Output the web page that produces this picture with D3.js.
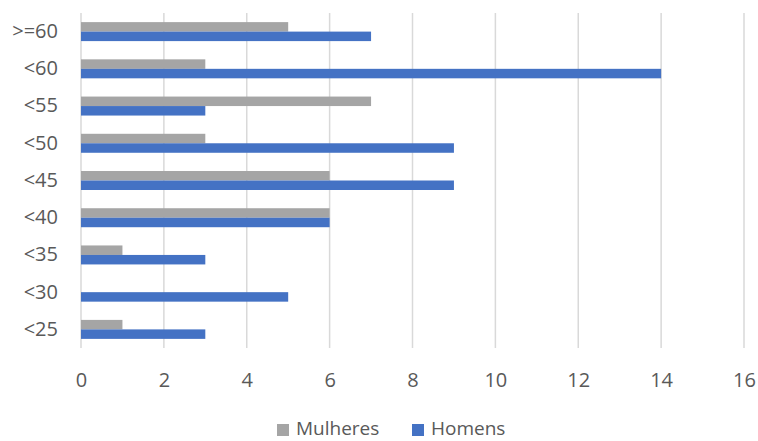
<!DOCTYPE html>
<html><head><meta charset="utf-8">
<script src="https://cdn.jsdelivr.net/npm/d3@7"></script>
<style>body{margin:0;background:#fff}svg{display:block}</style>
</head><body>
<script>
const categories = ["<25","<30","<35","<40","<45","<50","<55","<60",">=60"];
const mulheres = [1,0,1,6,6,3,7,3,5];
const homens = [3,5,3,6,9,9,3,14,7];
const seriesNames = ["Mulheres","Homens"];
const xTicks = [0,2,4,6,8,10,12,14,16];
const colors = ["#A5A5A5","#4472C4"];

const W=758,H=441;
const font="'Open Sans', sans-serif";
const fs=20;
const svg=d3.select("body").append("svg").attr("width",W).attr("height",H);
const x=d3.scaleLinear().domain([0,16]).range([81,744]);
const cats=categories.slice().reverse();
const y=d3.scaleBand().domain(cats).range([13,348]).paddingInner(0.49).paddingOuter(0.245);
const y1=d3.scaleBand().domain(seriesNames).range([0,y.bandwidth()]);

svg.append("g").selectAll("line").data(xTicks).join("line")
  .attr("x1",d=>x(d)).attr("x2",d=>x(d)).attr("y1",13).attr("y2",348)
  .attr("stroke","#D9D9D9").attr("stroke-width",1.5);

const data=categories.map((c,i)=>({c,vals:[mulheres[i],homens[i]]}));
const g=svg.append("g").selectAll("g").data(data).join("g")
  .attr("transform",d=>`translate(0,${y(d.c)})`);
g.selectAll("rect").data(d=>d.vals.map((v,j)=>({v,s:seriesNames[j],j}))).join("rect")
  .attr("x",x(0)).attr("y",d=>y1(d.s)).attr("height",y1.bandwidth())
  .attr("width",d=>x(d.v)-x(0)).attr("fill",d=>colors[d.j]);

const xAxis=svg.append("g").attr("transform","translate(0,348)")
  .call(d3.axisBottom(x).tickValues(xTicks).tickSize(0).tickPadding(25));
xAxis.select(".domain").remove();
xAxis.selectAll("text").attr("font-family",font).attr("font-size",fs).attr("fill","#595959");

const yAxis=svg.append("g").attr("transform","translate(58,0)")
  .call(d3.axisLeft(y).tickSize(0).tickPadding(0));
yAxis.select(".domain").remove();
yAxis.selectAll("text").attr("font-family",font).attr("font-size",fs).attr("fill","#595959");

const leg=svg.append("g");
const lx=[277,412];
seriesNames.forEach((s,i)=>{
  leg.append("rect").attr("x",lx[i]).attr("y",424).attr("width",12).attr("height",12).attr("fill",colors[i]);
  leg.append("text").attr("x",lx[i]+19).attr("y",435).text(s)
    .attr("font-family",font).attr("font-size",19).attr("fill","#595959");
});
</script>
</body></html>
